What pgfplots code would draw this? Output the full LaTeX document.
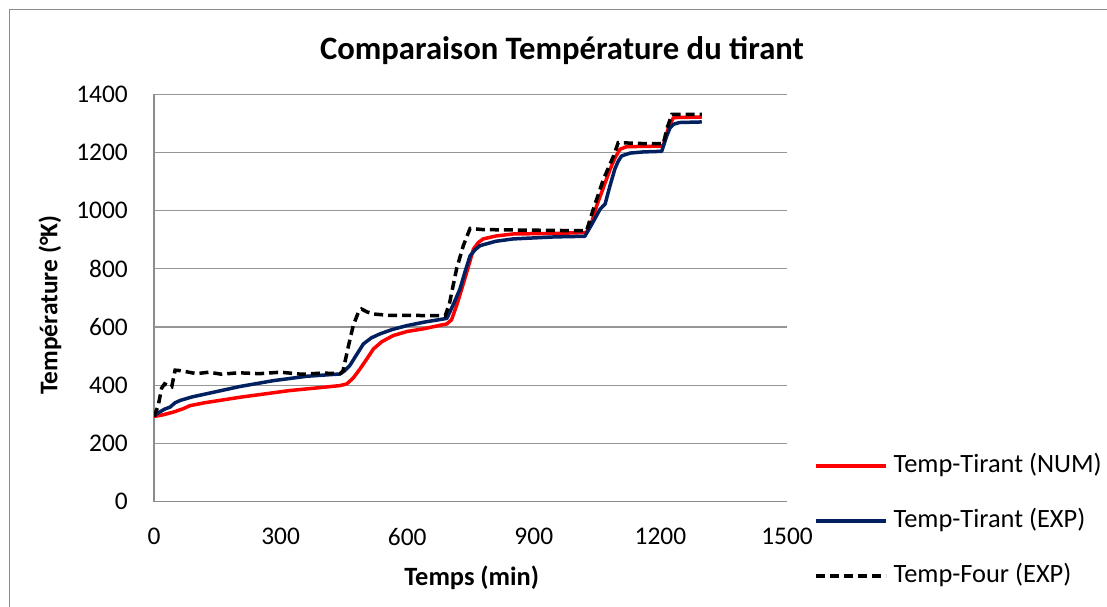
\documentclass[border=0pt]{standalone}
\usepackage{fontspec}
\setmainfont{Carlito}
\usepackage{pgfplots}
\pgfplotsset{compat=1.18}
\usepackage{pgfplotstable}

\definecolor{numred}{RGB}{255,0,0}
\definecolor{expblue}{RGB}{0,32,96}
\definecolor{gridgray}{RGB}{150,150,150}
\definecolor{framegray}{RGB}{140,140,140}

% Temperature of the tie rod, numerical model
\pgfplotstableread{
t T
0 293
20 298
46 308
70 320
85 330
120 340
204 359
322 382
400 393
441 399
457 405
472 425
488 456
504 490
520 525
540 550
567 571
600 585
638 594
694 611
705 625
717 674
729 730
741 788
757 868
768 890
780 903
810 913
851 920
950 922
1025 925
1037 960
1049 1017
1065 1080
1081 1143
1092 1180
1104 1211
1120 1220
1200 1222
1207 1225
1220 1290
1231 1320
1298 1322
}\numtable

% Temperature of the tie rod, measured
\pgfplotstableread{
t T
0 295
10 305
25 318
38 325
50 340
62 348
90 360
125 371
204 396
283 416
362 431
441 439
452 450
464 468
480 505
496 542
515 563
536 577
565 592
599 605
640 617
686 628
694 630
710 680
725 731
737 790
749 845
761 866
773 880
810 895
851 903
950 910
1021 912
1040 960
1057 1005
1065 1017
1069 1023
1080 1083
1092 1143
1100 1170
1108 1188
1128 1198
1160 1202
1203 1204
1215 1257
1223 1285
1231 1297
1245 1303
1298 1305
}\exptable

% Furnace temperature, measured
\pgfplotstableread{
t T
0 293
10 330
18 390
25 405
32 400
42 395
50 452
65 450
100 440
130 445
160 438
200 443
250 440
300 445
350 438
400 442
441 440
448 450
460 530
472 605
484 650
492 662
505 652
520 645
560 640
620 640
690 639
700 680
717 800
733 880
749 939
780 935
900 933
1025 931
1041 1005
1065 1108
1089 1188
1100 1234
1150 1231
1207 1230
1215 1280
1227 1331
1298 1331
}\fourtable

\begin{document}
\begin{tikzpicture}
\useasboundingbox (0,0) rectangle (1107bp,607bp);
\draw[framegray, line width=1.3bp] (9.3bp,-20bp) -- (9.3bp,597.7bp) -- (1130bp,597.7bp);
\begin{axis}[
  at={(154bp,105.3bp)}, anchor=south west,
  scale only axis, width=633bp, height=407.4bp,
  xmin=0, xmax=1500, ymin=0, ymax=1400,
  xtick={0,300,...,1500}, ytick={0,200,...,1400},
  axis x line*=bottom, axis y line*=left,
  axis line style={framegray, line width=1.2bp, -},
  ymajorgrids, grid style={gridgray, line width=1.2bp},
  major tick length=0pt,
  /pgf/number format/assume math mode=true,
  /pgf/number format/set thousands separator={},
  tick label style={font=\fontsize{25.5}{30}\selectfont, inner sep=0pt},
  yticklabel style={xshift=-26bp},
  xticklabel style={yshift=-26bp},
  title={\textbf{Comparaison Température du tirant}},
  title style={font=\fontsize{32.8}{38}\selectfont, at={(axis description cs:0.6445,1.0915)}, anchor=center},
  xlabel={\textbf{Temps (min)}},
  xlabel style={font=\fontsize{26.5}{30}\selectfont, at={(axis description cs:0.502,-0.187)}, anchor=center},
  ylabel={\textbf{Température (°K)}},
  ylabel style={font=\fontsize{25.5}{30}\selectfont, at={(axis description cs:-0.1643,0.483)}, anchor=center},
  legend cell align=left,
  legend image code/.code={\draw[#1] (0bp,0bp) -- (70bp,0bp);},
  legend style={draw=none, fill=none, inner sep=0pt,
    at={(axis description cs:1.0427,0.117)}, anchor=north west,
    font=\fontsize{26.5}{30}\selectfont,
    nodes={inner sep=0pt, text height=18bp, text depth=6bp},
    column sep=6bp, row sep=31bp},
]
\addplot[numred, line width=3.5bp, line join=round] table[x=t, y=T] {\numtable};
\addlegendentry{Temp-Tirant (NUM)}
\addplot[expblue, line width=3.5bp, line join=round] table[x=t, y=T] {\exptable};
\addlegendentry{Temp-Tirant (EXP)}
\addplot[black, line width=3.5bp, dash pattern=on 9bp off 5bp] table[x=t, y=T] {\fourtable};
\addlegendentry{Temp-Four (EXP)}
\end{axis}
\end{tikzpicture}
\end{document}
